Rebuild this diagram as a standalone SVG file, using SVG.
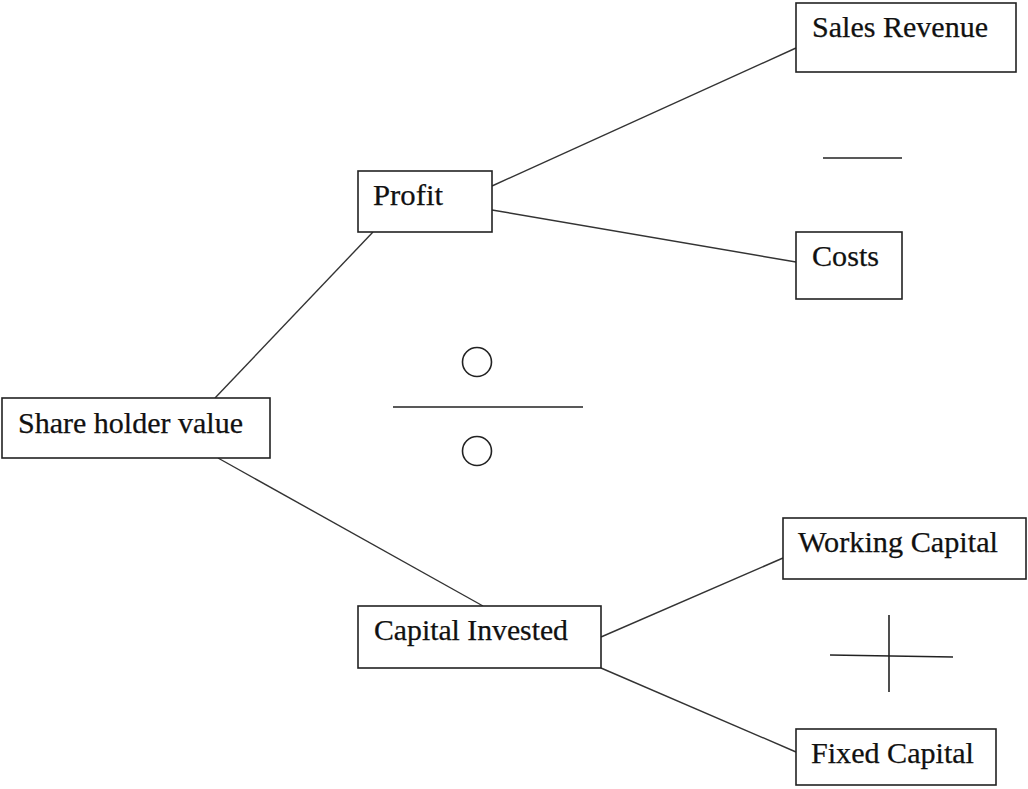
<svg xmlns="http://www.w3.org/2000/svg" width="1028" height="789" viewBox="0 0 1028 789">
  <style>
    .box { fill: #ffffff; stroke: #222222; stroke-width: 1.6; }
    .lbl { font-family: "Liberation Serif", "Times New Roman", serif; font-size: 29px; fill: #111111; stroke: #111111; stroke-width: 0.25; }
    .edge { stroke: #333333; stroke-width: 1.4; fill: none; }
    .sym { stroke: #222222; stroke-width: 1.6; fill: none; }
  </style>
  <rect width="1028" height="789" fill="#ffffff"/>

  <!-- connectors -->
  <g id="connectors">
    <line class="edge" x1="215" y1="398" x2="373" y2="232"/>
    <line class="edge" x1="218" y1="458" x2="483" y2="606"/>
    <line class="edge" x1="492" y1="186" x2="796" y2="48"/>
    <line class="edge" x1="492" y1="210" x2="796" y2="262"/>
    <line class="edge" x1="601" y1="637" x2="783" y2="558"/>
    <line class="edge" x1="601" y1="668" x2="796" y2="752"/>
  </g>

  <!-- nodes -->
  <g id="shareholder-value">
    <rect class="box" x="2" y="398" width="268" height="60"/>
    <text class="lbl" x="18" y="433" textLength="225" lengthAdjust="spacingAndGlyphs">Share holder value</text>
  </g>
  <g id="profit">
    <rect class="box" x="358" y="171" width="134" height="61"/>
    <text class="lbl" x="373" y="205" textLength="70" lengthAdjust="spacingAndGlyphs">Profit</text>
  </g>
  <g id="capital-invested">
    <rect class="box" x="358" y="606" width="243" height="62"/>
    <text class="lbl" x="374" y="640" textLength="194" lengthAdjust="spacingAndGlyphs">Capital Invested</text>
  </g>
  <g id="sales-revenue">
    <rect class="box" x="796" y="3" width="220" height="69"/>
    <text class="lbl" x="812" y="37" textLength="176" lengthAdjust="spacingAndGlyphs">Sales Revenue</text>
  </g>
  <g id="costs">
    <rect class="box" x="796" y="232" width="106" height="67"/>
    <text class="lbl" x="812" y="266" textLength="67" lengthAdjust="spacingAndGlyphs">Costs</text>
  </g>
  <g id="working-capital">
    <rect class="box" x="783" y="518" width="243" height="61"/>
    <text class="lbl" x="798" y="552" textLength="200" lengthAdjust="spacingAndGlyphs">Working Capital</text>
  </g>
  <g id="fixed-capital">
    <rect class="box" x="796" y="729" width="200" height="56"/>
    <text class="lbl" x="811" y="763" textLength="163" lengthAdjust="spacingAndGlyphs">Fixed Capital</text>
  </g>

  <!-- operator symbols -->
  <g id="minus">
    <line class="sym" x1="823" y1="158" x2="902" y2="158"/>
  </g>
  <g id="divide">
    <circle class="sym" cx="477" cy="362" r="14.5"/>
    <line class="sym" x1="393" y1="407" x2="583" y2="407"/>
    <circle class="sym" cx="477" cy="451" r="14.5"/>
  </g>
  <g id="plus">
    <line class="sym" x1="889" y1="615" x2="889" y2="692"/>
    <line class="sym" x1="830" y1="655" x2="953" y2="657"/>
  </g>
</svg>
